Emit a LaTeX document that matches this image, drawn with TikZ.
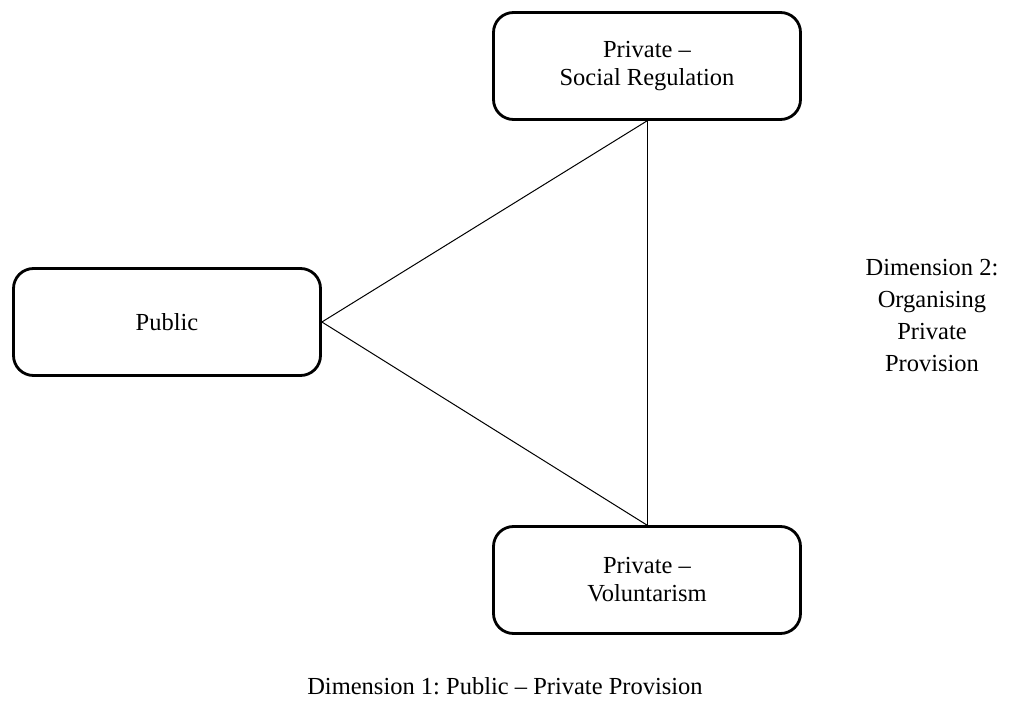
\documentclass[tikz,border=0pt]{standalone}
\usepackage{fontspec}
\setmainfont{Liberation Serif}
\usepackage{tikz}
\frenchspacing
\def\regimebox{\node[draw, line width=2.8bp, rounded corners=20bp, minimum width=307bp, minimum height=107bp, align=center, inner sep=0pt, font=\fontsize{24.5bp}{28bp}\selectfont]}
\def\dimlabel{\node[align=center, font=\fontsize{24.5bp}{32bp}\selectfont]}

\begin{document}
\begin{tikzpicture}[x=1bp,y=-1bp]
\useasboundingbox (0,0) rectangle (1010,721);
\regimebox (social) at (647,66) {Private --\\Social Regulation};
\regimebox (public) at (167,322) {Public};
\regimebox (volunt) at (647,580) {Private --\\Voluntarism};
\dimlabel (dimtwo) at (932,316) {Dimension 2:\\Organising\\Private\\Provision};
\dimlabel (dimone) at (505,686) {Dimension 1: Public -- Private Provision};
\draw[line width=1bp] (public.east) -- (social.south);
\draw[line width=1bp] (public.east) -- (volunt.north);
\draw[line width=1bp] (social.south) -- (volunt.north);
\end{tikzpicture}
\end{document}
